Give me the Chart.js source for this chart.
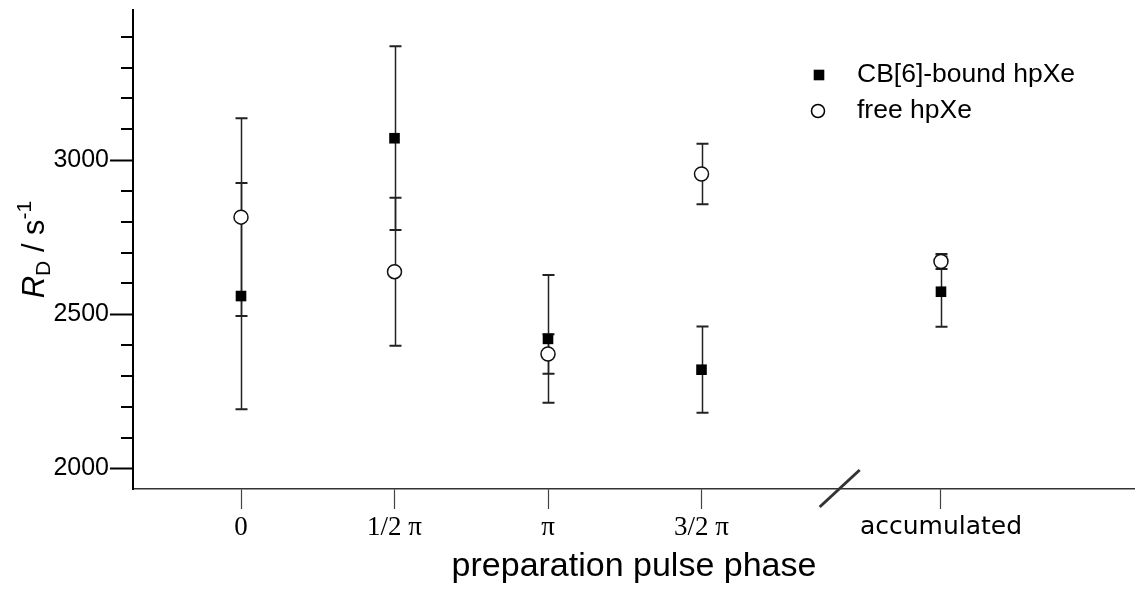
<!DOCTYPE html>
<html><head><meta charset="utf-8">
<script src="https://cdn.jsdelivr.net/npm/chart.js@4"></script>
<style>html,body{margin:0;padding:0;background:#fff}#wrap{width:1135px;height:590px;position:relative}</style>
</head><body><div id="wrap"><canvas id="c" width="1135" height="590"></canvas></div>
<script>
const categories = ["0", "1/2 π", "π", "3/2 π", "accumulated"];
const categoryX = [0, 1, 2, 3, 4.56];
const boundValues = [2559, 3071, 2420, 2320, 2573];
const boundErrors = [367, 298, 207, 140, 114];
const freeValues = [2815, 2638, 2371, 2955, 2671];
const freeErrors = [321, 240, 64, 98, 24];
const yMajorTicks = [2000, 2500, 3000];
const yMinorStep = 100;
const seriesNames = ["CB[6]-bound hpXe", "free hpXe"];
const axisBreakAt = 3.9;

const errorBars = {
  id: 'errorBars',
  beforeDatasetsDraw(chart) {
    const {ctx, scales: {x, y}} = chart;
    ctx.save();
    ctx.strokeStyle = '#222';
    const sets = [[freeValues, freeErrors], [boundValues, boundErrors]];
    sets.forEach(([vals, errs]) => {
      vals.forEach((v, i) => {
        const px = Math.round(x.getPixelForValue(categoryX[i])) + 0.5;
        const t = y.getPixelForValue(v + errs[i]);
        const b = y.getPixelForValue(v - errs[i]);
        ctx.lineWidth = 1.5;
        ctx.beginPath(); ctx.moveTo(px, t); ctx.lineTo(px, b); ctx.stroke();
        ctx.lineWidth = 2;
        ctx.beginPath();
        ctx.moveTo(px - 6, t); ctx.lineTo(px + 6, t);
        ctx.moveTo(px - 6, b); ctx.lineTo(px + 6, b);
        ctx.stroke();
      });
    });
    ctx.restore();
  }
};

const extras = {
  id: 'extras',
  afterDraw(chart) {
    const {ctx, scales: {x, y}, chartArea} = chart;
    ctx.save();
    // minor y ticks
    ctx.strokeStyle = '#000';
    ctx.lineWidth = 2;
    for (let v = Math.ceil(y.min / yMinorStep) * yMinorStep; v <= y.max; v += yMinorStep) {
      if (yMajorTicks.includes(v)) continue;
      const py = Math.round(y.getPixelForValue(v));
      ctx.beginPath(); ctx.moveTo(chartArea.left - 12, py); ctx.lineTo(chartArea.left, py); ctx.stroke();
    }
    // axis break mark
    const bx = x.getPixelForValue(axisBreakAt);
    const by = chartArea.bottom;
    ctx.strokeStyle = '#333';
    ctx.lineWidth = 3;
    ctx.beginPath(); ctx.moveTo(bx - 20, by + 18); ctx.lineTo(bx + 20, by - 19); ctx.stroke();
    // y axis title
    const cy = (chartArea.top + chartArea.bottom) / 2;
    ctx.translate(44, cy);
    ctx.rotate(-Math.PI / 2);
    ctx.fillStyle = '#000';
    ctx.textBaseline = 'alphabetic';
    const parts = [
      {t: 'R', f: 'italic 31px "Liberation Sans", Arial', dy: 0},
      {t: 'D', f: '21px "Liberation Sans", Arial', dy: 6},
      {t: ' / s', f: '31px "Liberation Sans", Arial', dy: 0},
      {t: '-1', f: '21px "Liberation Sans", Arial', dy: -13}
    ];
    let w = 0;
    parts.forEach(p => { ctx.font = p.f; p.w = ctx.measureText(p.t).width; w += p.w; });
    let sx = -w / 2;
    parts.forEach(p => { ctx.font = p.f; ctx.fillText(p.t, sx, p.dy); sx += p.w; });
    ctx.restore();
    // legend
    ctx.save();
    ctx.fillStyle = '#000';
    ctx.fillRect(819 - 5.3, 75 - 5.3, 10.6, 10.6);
    ctx.strokeStyle = '#000'; ctx.lineWidth = 1.5;
    ctx.beginPath(); ctx.arc(818, 111, 6.5, 0, Math.PI * 2); ctx.stroke();
    ctx.font = '26.5px "Liberation Sans", Arial';
    ctx.textBaseline = 'middle';
    ctx.fillText(seriesNames[0], 857, 75);
    ctx.fillText(seriesNames[1], 857, 111);
    ctx.restore();
  }
};

new Chart(document.getElementById('c'), {
  type: 'scatter',
  data: {
    datasets: [
      {
        label: seriesNames[0],
        data: categoryX.map((xv, i) => ({x: xv, y: boundValues[i]})),
        pointStyle: 'rect', pointRadius: 7.5, pointHoverRadius: 7.5,
        backgroundColor: '#000', borderColor: '#000', borderWidth: 0
      },
      {
        label: seriesNames[1],
        data: categoryX.map((xv, i) => ({x: xv, y: freeValues[i]})),
        pointStyle: 'circle', pointRadius: 7, pointHoverRadius: 7,
        backgroundColor: '#fff', borderColor: '#111', borderWidth: 1.5
      }
    ]
  },
  options: {
    responsive: false,
    animation: false,
    layout: {autoPadding: false, padding: {top: 10, left: 0, right: 0, bottom: 0}},
    plugins: {legend: {display: false}, tooltip: {enabled: false}},
    scales: {
      x: {
        type: 'linear', min: -0.7036, max: 5.824,
        border: {display: true, color: '#333', width: 1.5},
        grid: {drawOnChartArea: false, drawTicks: true, tickLength: 20, tickWidth: 1.2, tickColor: '#444'},
        afterBuildTicks: (s) => { s.ticks = categoryX.map(v => ({value: v})); },
        ticks: {
          autoSkip: false, maxRotation: 0, padding: 3, color: '#000',
          callback: (v, i) => categories[i],
          font: (c) => c.index === 4 ? {family: '"DejaVu Sans"', size: 25} : {family: '"Liberation Serif"', size: 27}
        },
        title: {display: true, text: 'preparation pulse phase', color: '#000',
          font: {family: '"Liberation Sans", Arial', size: 34}, padding: {top: 0, bottom: 3}},
        afterFit: (s) => { s.height = 101; s.paddingLeft = 0; s.paddingRight = 0; }
      },
      y: {
        type: 'linear', min: 1933, max: 3487,
        border: {display: true, color: '#000', width: 2},
        grid: {drawOnChartArea: false, drawTicks: true, tickLength: 23, tickWidth: 2,
          tickColor: (c) => (c.tick && yMajorTicks.includes(c.tick.value)) ? '#000' : 'rgba(0,0,0,0)'},
        ticks: {
          stepSize: 100, includeBounds: false, autoSkip: false, maxTicksLimit: 100, padding: 1, color: '#000',
          font: {family: '"Liberation Sans", Arial', size: 25},
          callback: (v) => yMajorTicks.includes(v) ? String(v) : null
        },
        afterFit: (s) => { s.width = 133; s.paddingTop = 0; s.paddingBottom = 0; }
      }
    }
  },
  plugins: [errorBars, extras]
});
</script></body></html>
